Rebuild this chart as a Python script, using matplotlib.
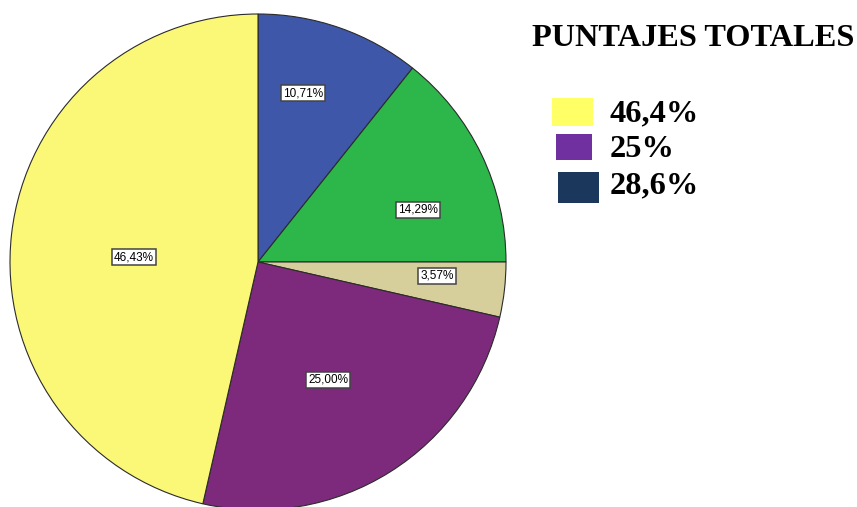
import matplotlib
matplotlib.use('Agg')
import matplotlib.pyplot as plt
from matplotlib.patches import Rectangle

# slice data, clockwise from 12 o'clock
pcts = [10.71, 14.29, 3.57, 25.00, 46.43]
pct_labels = ['10,71%', '14,29%', '3,57%', '25,00%', '46,43%']
slice_colors = ['#3f57a8', '#2db74b', '#d6cf9b', '#7d2a7c', '#fcf877']

title = 'PUNTAJES TOTALES'
legend_labels = ['46,4%', '25%', '28,6%']
legend_colors = ['#ffff66', '#7030a0', '#1b375c']

W, H = 857, 507


def fy(py):
    # pixel row (top-down) -> data y (bottom-up)
    return H - py


fig = plt.figure(figsize=(W / 100, H / 100), dpi=100)
ax = fig.add_axes([0, 0, 1, 1])

wedges, _ = ax.pie(pcts, colors=slice_colors, startangle=90, counterclock=False,
                   center=(258, fy(262)), radius=248,
                   wedgeprops=dict(edgecolor='#2b2b2b', linewidth=0.8))

# label centres in pixels
label_pos = [(303, 93), (418, 210), (437, 276), (328, 380), (134, 257)]
for (px, py), txt in zip(label_pos, pct_labels):
    ax.text(px, fy(py), txt, ha='center', va='center', fontsize=8.5,
            family='Liberation Sans',
            bbox=dict(boxstyle='square,pad=0.18', fc='white', ec='#444444', lw=1.1))

ax.text(532, fy(46), title, ha='left', va='baseline', fontsize=23.3,
        family='Liberation Serif', weight='bold')

boxes = [(552, 98, 41, 28), (556, 134, 36, 26), (558, 172, 41, 31)]
baselines = [121, 157, 193]
for (bx, by, bw, bh), col, lab, bl in zip(boxes, legend_colors, legend_labels, baselines):
    ax.add_patch(Rectangle((bx, fy(by + bh)), bw, bh, fc=col, ec='none'))
    ax.text(610, fy(bl), lab, ha='left', va='baseline', fontsize=23.3,
            family='Liberation Serif', weight='bold')

ax.set_xlim(0, W)
ax.set_ylim(0, H)
ax.set_aspect('auto')
ax.axis('off')

fig.savefig('out.png', dpi=100)
